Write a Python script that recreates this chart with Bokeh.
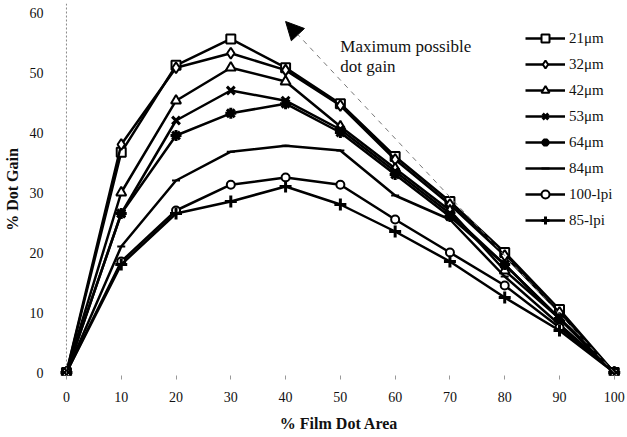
from bokeh.plotting import figure
from bokeh.models import Legend, LegendItem, Span, Arrow, NormalHead, FixedTicker, Range1d
from bokeh.core.properties import value
from bokeh.embed import file_html
from bokeh.resources import INLINE

film_area = [0, 10, 20, 30, 40, 50, 60, 70, 80, 90, 100]
s21 = [0, 36.7, 51.2, 55.6, 50.8, 44.8, 36.0, 28.5, 20.0, 10.5, 0]
s32 = [0, 38.0, 50.8, 53.2, 50.4, 44.5, 35.5, 28.0, 19.5, 10.0, 0]
s42 = [0, 30.0, 45.3, 50.8, 48.5, 41.0, 34.0, 27.0, 17.0, 9.0, 0]
s53 = [0, 26.5, 42.0, 47.0, 45.3, 40.5, 33.5, 26.5, 18.0, 9.0, 0]
s64 = [0, 26.5, 39.5, 43.2, 44.8, 40.0, 33.0, 26.0, 18.0, 9.0, 0]
s84 = [0, 21.0, 32.0, 36.8, 37.8, 37.0, 29.5, 25.5, 16.0, 8.0, 0]
l100 = [0, 18.5, 27.0, 31.3, 32.5, 31.3, 25.5, 20.0, 14.5, 7.5, 0]
l85 = [0, 18.0, 26.5, 28.5, 31.0, 28.0, 23.5, 18.5, 12.5, 7.0, 0]

labels = ["21\u03bcm", "32\u03bcm", "42\u03bcm", "53\u03bcm", "64\u03bcm", "84\u03bcm", "100-lpi", "85-lpi"]
series = [s21, s32, s42, s53, s64, s84, l100, l85]
markers = ["square", "diamond", "triangle", "x", "asterisk", "dash", "circle", "cross"]
sizes = [9, 11, 10, 11, 11, 8, 8, 12]

x_ticks = [0, 10, 20, 30, 40, 50, 60, 70, 80, 90, 100]
y_ticks = [0, 10, 20, 30, 40, 50, 60]
arrow_start = (100, 0)
arrow_end = (40.0, 58.5)
note_text = "Maximum possible\ndot gain"
note_pos = (50, 56.0)

FONT = "Liberation Serif"
INK = "#111111"

p = figure(width=627, height=437, output_backend="svg", toolbar_location=None,
           x_range=Range1d(-2, 101.5), y_range=Range1d(-0.5, 61.5),
           min_border_left=55, min_border_right=5, min_border_top=3, min_border_bottom=62)
p.outline_line_color = None
p.xgrid.visible = False
p.ygrid.visible = False

p.add_layout(Span(location=0, dimension="height", line_color="#888888", line_dash="2 2", line_width=1))

items = []
for lab, ys, mk, sz in zip(labels, series, markers, sizes):
    r1 = p.line(film_area, ys, line_color="black", line_width=2.5)
    r2 = p.scatter(film_area, ys, marker=mk, size=sz, line_color="black",
                   line_width=3 if mk in ("x", "asterisk", "cross") else 2,
                   fill_color="white" if mk in ("square", "diamond", "triangle", "circle") else "black")
    items.append(LegendItem(label=lab, renderers=[r1, r2]))

p.add_layout(Arrow(end=NormalHead(size=18, fill_color="black", line_color="black"),
                   x_start=arrow_start[0], y_start=arrow_start[1],
                   x_end=arrow_end[0], y_end=arrow_end[1],
                   line_color="#777777", line_width=1, line_dash="5 5"))

p.text(x=[note_pos[0]], y=[note_pos[1]], text=[note_text], text_font=value(FONT),
       text_font_size="17px", text_baseline="top", text_align="left", text_line_height=1.1,
       text_color=INK)

legend = Legend(items=items, location=(470, 145), border_line_color=None,
                background_fill_alpha=0, glyph_width=40, glyph_height=20, label_height=20,
                spacing=6, padding=4, label_standoff=4, label_text_font=FONT,
                label_text_font_size="15px", label_text_color=INK, margin=0)
p.add_layout(legend)

p.xaxis.ticker = FixedTicker(ticks=x_ticks)
p.yaxis.ticker = FixedTicker(ticks=y_ticks)
for ax in (p.xaxis, p.yaxis):
    ax.axis_line_color = None
    ax.minor_tick_line_color = None
    ax.major_label_text_font = FONT
    ax.major_label_text_font_size = "14px"
    ax.major_label_text_color = INK
    ax.axis_label_text_font = FONT
    ax.axis_label_text_font_style = "bold"
    ax.axis_label_text_font_size = "16px"
    ax.axis_label_text_color = INK
p.xaxis.major_tick_line_color = "#999999"
p.xaxis.major_tick_in = 0
p.xaxis.major_tick_out = 4
p.xaxis.major_label_standoff = 12
p.xaxis.axis_label = "% Film Dot Area"
p.xaxis.axis_label_standoff = 10
p.yaxis.major_tick_line_color = None
p.yaxis.major_label_standoff = 6
p.yaxis.axis_label = "% Dot Gain"
p.yaxis.axis_label_standoff = 6

open("out.html", "w").write(file_html(p, INLINE))
